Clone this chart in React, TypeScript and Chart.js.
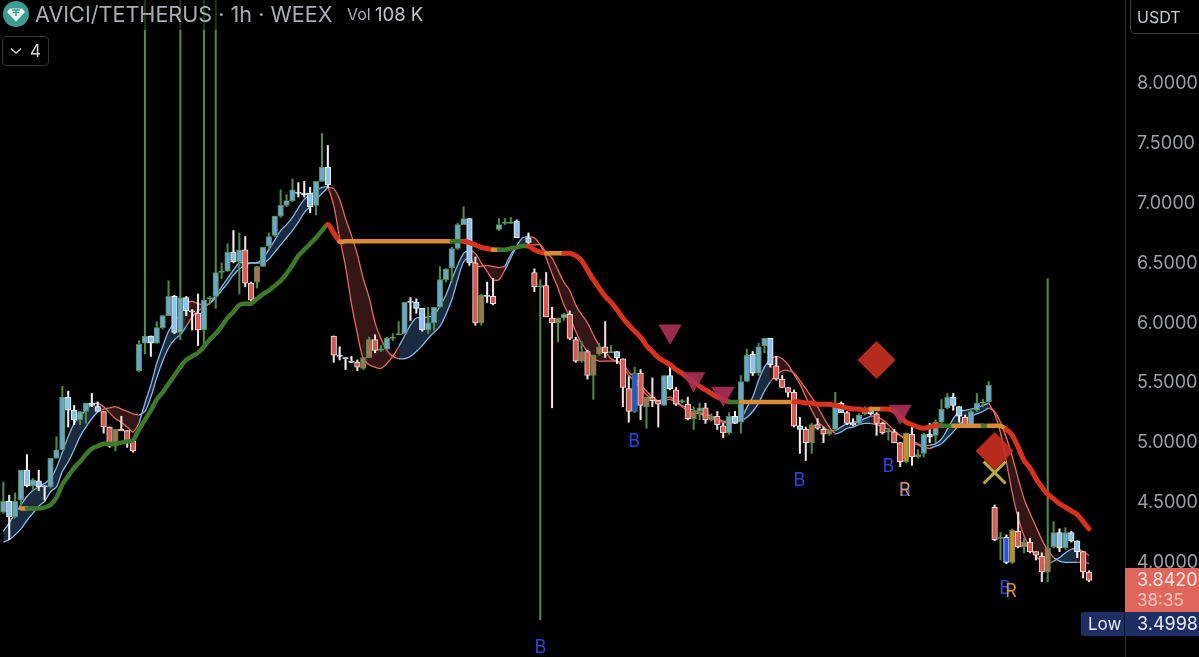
import React, { useEffect, useRef } from "react";
import { Chart, registerables } from "chart.js";

Chart.register(...registerables);

const candleKinds =
  "GWGGWGWWGG" + "GWWGGWWRRN" + "RRRGGWGGGW" + "GWWRGGGGGW" + "GRRNGGGGGG" +
  "WWWGGWRWWW" + "RNNRGGGGGW" + "WWGGGGGGGW" + "RNWRGGGWXW" + "RGRRNGRRNR" +
  "NNRGWRRLRN" + "RRGWRGRNGR" + "NRRGWGGWGG" + "WRRRRWRNRR" + "NGWRRGGWRR" +
  "GRRORNGWGG" + "GWWRGGGGRG" + "BORNRRRNGW" + "GWWRR";

const bodyTops = [
  4.50,4.50,4.50,4.76,4.76,4.68,4.67,4.63,4.86,4.93,
  5.37,5.37,5.26,5.25,5.32,5.32,5.29,5.25,5.12,5.10,
  5.10,5.09,5.00,5.81,5.88,5.88,5.95,6.05,6.21,6.21,
  6.20,6.20,6.09,6.07,6.18,6.20,6.41,6.42,6.58,6.58,
  6.60,6.60,6.32,6.46,6.62,6.71,6.88,6.97,7.01,7.10,
  7.08,7.07,7.07,7.17,7.29,7.29,5.88,5.72,5.70,5.67,
  5.66,5.70,5.85,5.85,5.77,5.86,5.87,5.90,6.16,6.17,
  6.16,6.11,5.99,6.12,6.35,6.44,6.61,6.81,6.86,6.86,
  6.49,6.22,6.22,6.21,6.81,6.83,6.83,6.84,null,6.70,
  6.41,6.30,6.30,6.03,6.03,6.06,6.06,5.85,5.75,5.75,
  5.72,5.79,5.79,5.75,5.75,5.69,5.44,5.57,5.57,5.37,
  5.37,5.34,5.55,5.55,5.43,5.34,5.31,5.25,5.28,5.28,
  5.21,5.21,5.13,5.21,5.21,5.50,5.72,5.73,5.79,5.86,
  5.86,5.63,5.52,5.45,5.41,5.13,5.10,5.14,5.14,5.10,
  5.09,5.32,5.32,5.24,5.15,5.22,5.27,5.27,5.23,5.15,
  5.09,5.08,4.99,5.07,5.06,4.89,5.06,5.06,5.16,5.27,
  5.37,5.37,5.29,5.20,5.25,5.32,5.33,5.47,4.45,4.20,
  4.20,4.26,4.25,4.16,4.16,4.08,4.04,4.11,4.24,4.24,
  4.24,4.24,4.17,4.08,3.91,
];

const bodyBottoms = [
  4.41,4.37,4.37,4.51,4.63,4.63,4.62,4.62,4.62,4.86,
  4.93,5.26,5.18,5.18,5.25,5.30,5.25,5.12,4.96,4.96,
  5.09,5.00,4.92,5.59,5.82,5.82,5.82,5.95,6.05,5.91,
  5.91,6.09,6.08,5.93,5.93,6.19,6.21,6.41,6.42,6.50,
  6.50,6.32,6.18,6.33,6.46,6.63,6.72,6.88,6.97,7.01,
  7.07,7.06,6.96,6.97,7.17,7.14,5.72,5.71,5.69,5.66,
  5.62,5.61,5.70,5.76,5.76,5.77,5.86,5.89,5.90,6.16,
  6.11,5.93,5.93,5.99,6.12,6.35,6.45,6.61,6.81,6.49,
  5.99,5.99,6.21,6.15,6.77,6.82,6.82,6.70,null,6.66,
  6.29,6.29,6.04,5.99,5.99,6.03,5.86,5.67,5.67,5.55,
  5.55,5.73,5.74,5.74,5.70,5.45,5.25,5.25,5.30,5.29,
  5.34,5.31,5.30,5.44,5.31,5.33,5.19,5.19,5.25,5.18,
  5.18,5.14,5.07,5.07,5.15,5.16,5.50,5.57,5.57,5.80,
  5.64,5.52,5.45,5.41,5.13,5.10,4.99,4.99,5.11,5.06,
  5.06,5.10,5.24,5.15,5.14,5.15,5.23,5.23,5.15,5.07,
  5.08,4.99,4.83,4.83,4.87,4.87,4.90,5.04,5.05,5.16,
  5.28,5.30,5.21,5.13,5.14,5.26,5.32,5.33,4.18,4.19,
  3.99,3.99,4.12,4.12,4.08,4.05,3.91,3.91,4.12,4.11,
  4.11,4.17,4.08,3.91,3.84,
];

const highs = [
  4.66,4.55,4.57,4.76,4.89,4.69,4.76,4.63,4.86,5.04,
  5.46,5.42,5.30,5.25,5.32,5.40,5.33,5.25,5.12,5.10,
  5.21,5.09,5.01,5.84,8.70,5.88,6.00,6.05,6.34,6.22,
  8.70,6.21,6.10,6.23,8.70,6.21,8.70,6.49,6.65,6.76,
  6.74,6.71,6.33,6.46,6.62,6.74,6.88,7.10,7.06,7.19,
  7.16,7.17,7.12,7.17,7.57,7.47,5.88,5.79,5.70,5.71,
  5.68,5.70,5.87,5.89,5.80,5.87,5.90,6.00,6.16,6.20,
  6.19,6.11,6.12,6.12,6.46,6.44,6.62,6.82,6.96,6.86,
  6.54,6.23,6.33,6.36,6.86,6.86,6.87,6.85,null,6.74,
  6.44,6.35,6.41,6.12,6.03,6.07,6.09,5.87,5.83,5.76,
  5.72,5.82,6.00,5.80,5.75,5.69,5.54,5.62,5.60,5.37,
  5.53,5.34,5.55,5.65,5.45,5.35,5.37,5.29,5.32,5.32,
  5.23,5.25,5.15,5.24,5.25,5.55,5.77,5.75,5.82,5.86,
  5.86,5.71,5.55,5.45,5.43,5.20,5.12,5.15,5.19,5.12,
  5.10,5.41,5.33,5.25,5.19,5.23,5.29,5.28,5.24,5.16,
  5.11,5.10,4.99,5.07,5.12,4.93,5.07,5.15,5.18,5.35,
  5.40,5.40,5.29,5.22,5.27,5.40,5.35,5.50,4.47,4.24,
  4.22,4.27,4.41,4.19,4.19,4.08,4.07,6.36,4.33,4.27,
  4.28,4.25,4.17,4.08,3.92,
];

const lows = [
  4.40,4.18,4.36,4.45,4.62,4.59,4.59,4.51,4.61,4.86,
  4.93,5.12,5.14,5.14,5.15,5.29,5.25,5.07,4.95,4.92,
  5.09,4.95,4.91,5.58,5.73,5.71,5.82,5.94,6.05,5.90,
  5.85,6.05,5.93,5.80,5.81,6.15,6.11,6.36,6.42,6.49,
  6.23,6.29,6.17,6.28,6.46,6.61,6.71,6.87,6.96,7.00,
  7.04,7.04,6.91,6.89,7.17,7.12,5.66,5.68,5.60,5.66,
  5.59,5.60,5.70,5.74,5.75,5.76,5.84,5.89,5.90,6.01,
  6.07,5.92,5.90,5.93,6.12,6.33,6.33,6.60,6.81,6.47,
  5.97,5.97,6.16,6.14,6.76,6.81,6.82,6.70,null,6.64,
  6.25,3.51,6.04,5.28,5.83,6.01,5.85,5.66,5.66,5.52,
  5.35,5.72,5.70,5.74,5.65,5.29,5.16,5.24,5.18,5.11,
  5.29,5.12,5.30,5.43,5.30,5.32,5.18,5.10,5.18,5.15,
  5.17,5.10,5.03,5.06,5.15,5.07,5.50,5.55,5.55,5.74,
  5.62,5.51,5.45,5.37,5.12,4.90,4.84,4.90,5.10,4.99,
  5.05,5.09,5.24,5.14,5.13,5.14,5.22,5.22,5.05,5.06,
  5.01,4.99,4.79,4.82,4.80,4.86,4.87,4.99,4.99,5.15,
  5.27,5.26,5.16,5.12,5.13,5.25,5.29,5.32,4.17,4.01,
  3.98,3.98,4.11,4.07,4.07,4.01,3.83,3.83,4.11,4.08,
  4.10,4.16,4.03,3.86,3.83,
];

const trendLine = [
  null,null,null,4.44,4.44,4.44,4.44,4.45,4.47,4.53,
  4.64,4.71,4.78,4.83,4.89,4.94,4.96,4.98,4.98,4.98,
  4.99,5.00,5.01,5.10,5.18,5.26,5.35,5.41,5.48,5.55,
  5.62,5.68,5.71,5.74,5.79,5.85,5.90,5.96,6.03,6.08,
  6.14,6.15,6.15,6.19,6.23,6.26,6.30,6.34,6.40,6.47,
  6.55,6.60,6.65,6.70,6.76,6.81,6.74,6.67,6.67,6.67,
  6.67,6.67,6.67,6.67,6.67,6.67,6.67,6.67,6.67,6.67,
  6.67,6.67,6.67,6.67,6.67,6.67,6.67,6.67,6.67,6.66,
  6.64,6.62,6.61,6.60,6.60,6.60,6.61,6.62,6.63,6.63,
  6.60,6.58,6.57,6.57,6.57,6.57,6.57,6.55,6.51,6.43,
  6.35,6.28,6.21,6.16,6.10,6.03,5.97,5.92,5.87,5.80,
  5.75,5.70,5.67,5.64,5.60,5.57,5.53,5.50,5.46,5.43,
  5.40,5.37,5.35,5.33,5.33,5.33,5.33,5.33,5.33,5.33,
  5.33,5.33,5.33,5.33,5.33,5.33,5.32,5.32,5.31,5.31,
  5.31,5.30,5.29,5.28,5.27,5.27,5.26,5.27,5.27,5.27,
  5.27,5.25,5.21,5.16,5.14,5.12,5.11,5.12,5.13,5.13,
  5.13,5.13,5.13,5.13,5.13,5.13,5.13,5.13,5.13,5.13,
  5.10,5.05,4.95,4.84,4.78,4.69,4.62,4.56,4.52,4.48,
  4.45,4.42,4.39,4.33,4.27,
];

const fastLine = [
  4.25,4.32,4.40,4.47,4.54,4.59,4.62,4.65,4.69,4.78,
  4.91,5.04,5.15,5.21,5.26,5.31,5.32,5.29,5.24,5.19,
  5.16,5.12,5.08,5.15,5.32,5.47,5.65,5.79,5.92,5.99,
  6.07,6.16,6.17,6.15,6.14,6.15,6.22,6.29,6.36,6.43,
  6.49,6.49,6.49,6.49,6.53,6.60,6.68,6.76,6.81,6.87,
  6.95,7.02,7.06,7.09,7.12,7.13,6.97,6.70,6.46,6.15,
  5.90,5.69,5.64,5.62,5.61,5.65,5.71,5.79,5.88,5.97,
  6.03,6.03,6.04,6.05,6.13,6.22,6.35,6.47,6.57,6.60,
  6.57,6.49,6.42,6.35,6.35,6.43,6.53,6.63,6.70,6.71,
  6.70,6.64,6.53,6.40,6.28,6.14,6.04,5.92,5.82,5.75,
  5.69,5.67,5.67,5.67,5.67,5.65,5.58,5.53,5.47,5.42,
  5.37,5.34,5.36,5.37,5.34,5.30,5.28,5.26,5.24,5.23,
  5.21,5.19,5.17,5.17,5.18,5.18,5.28,5.37,5.51,5.62,
  5.69,5.71,5.69,5.64,5.56,5.48,5.37,5.26,5.17,5.12,
  5.09,5.09,5.12,5.15,5.16,5.17,5.19,5.21,5.21,5.18,
  5.14,5.09,5.05,5.03,5.01,4.98,4.96,4.97,4.98,5.02,
  5.10,5.19,5.25,5.26,5.27,5.28,5.30,5.32,5.23,5.07,
  4.83,4.57,4.36,4.21,4.11,4.04,4.00,3.98,4.00,4.03,
  4.07,4.10,4.11,4.08,4.05,
];

const slowLine = [
  4.16,4.18,4.22,4.27,4.34,4.40,4.46,4.50,4.58,4.62,
  4.75,4.83,4.93,5.04,5.12,5.19,5.25,5.27,5.28,5.29,
  5.27,5.25,5.23,5.22,5.25,5.37,5.53,5.67,5.78,5.85,
  5.89,5.96,6.04,6.09,6.12,6.15,6.20,6.26,6.32,6.39,
  6.44,6.47,6.49,6.49,6.49,6.52,6.58,6.64,6.70,6.76,
  6.83,6.91,6.96,7.02,7.07,7.12,7.11,7.02,6.86,6.72,
  6.56,6.36,6.20,5.99,5.86,5.76,5.71,5.69,5.69,5.71,
  5.75,5.80,5.86,5.91,5.96,6.06,6.18,6.35,6.50,6.54,
  6.47,6.46,6.47,6.46,6.45,6.46,6.56,6.62,6.64,6.64,
  6.64,6.64,6.58,6.53,6.43,6.33,6.26,6.14,6.06,5.99,
  5.89,5.80,5.75,5.69,5.67,5.62,5.55,5.50,5.44,5.39,
  5.35,5.33,5.34,5.35,5.33,5.29,5.26,5.24,5.23,5.21,
  5.19,5.17,5.16,5.15,5.17,5.17,5.20,5.25,5.32,5.42,
  5.50,5.55,5.59,5.59,5.57,5.51,5.44,5.37,5.29,5.20,
  5.12,5.06,5.08,5.11,5.12,5.14,5.15,5.15,5.14,5.12,
  5.10,5.07,5.05,5.01,4.99,4.97,4.95,4.94,4.96,4.98,
  5.03,5.08,5.14,5.18,5.21,5.23,5.25,5.28,5.25,5.16,
  5.03,4.87,4.69,4.52,4.40,4.29,4.18,4.09,4.03,4.00,
  3.99,3.99,3.99,3.99,3.98,
];

const bullRanges = [[0,16],[23,31],[35,55],[67,79],[85,89],[125,130],[141,147],[157,167],[178,182]];
const bearRanges = [[16,23],[31,35],[55,67],[79,85],[89,125],[130,141],[147,157],[167,178],[182,184]];

const trendStates: [number, string][] = [
  [3,"o"],[4,"g"],[55,"r"],[57,"o"],[76,"g"],[78,"r"],[83,"o"],[84,"g"],[89,"r"],[92,"o"],[95,"r"],
  [123,"g"],[125,"o"],[134,"r"],[147,"o"],[149,"r"],[159,"g"],[161,"o"],[166,"g"],[167,"o"],[170,"r"],
];

const triangleMarks = [{ x: 113, y: 5.92 }, { x: 117, y: 5.52 }, { x: 122, y: 5.40 }, { x: 152, y: 5.25 }];
const diamondMarks = [{ x: 148, y: 5.68 }, { x: 168, y: 4.92 }];
const crossMarks = [{ x: 168, y: 4.74 }];
const blueLetters = [
  { x: 106.9, y: 5.0 }, { x: 134.9, y: 4.67 }, { x: 150, y: 4.79 },
  { x: 91, y: 3.28 }, { x: 169.8, y: 3.77 }, { x: 152.8, y: 4.59 },
];
const orangeLetters = [{ x: 152.8, y: 4.59 }, { x: 170.8, y: 3.75 }];

const yTicks = [4, 4.5, 5, 5.5, 6, 6.5, 7, 7.5, 8];

const UI_FONT = "Inter, 'Noto Sans', sans-serif";
const GREEN_EDGE = "#4f8a4a";
const WHITE_EDGE = "#f4f4f4";
const PINK_EDGE = "#f3e0dc";

const kindStyle: Record<string, { fill: string; edge: string }> = {
  G: { fill: "#6ba6c7", edge: GREEN_EDGE },
  W: { fill: "#8ec3f0", edge: WHITE_EDGE },
  R: { fill: "#d95a55", edge: PINK_EDGE },
  N: { fill: "#a9714f", edge: GREEN_EDGE },
  O: { fill: "#c98a2d", edge: GREEN_EDGE },
  B: { fill: "#2255dd", edge: WHITE_EDGE },
  L: { fill: "#2255dd", edge: GREEN_EDGE },
};
const trendColors: Record<string, string> = { o: "#d98c35", g: "#3c7a2a", r: "#d8321f" };

const trendStateAt = (i: number) => {
  let c = "g";
  for (const [start, state] of trendStates) if (i >= start) c = state;
  return c;
};

const letterPlugin = {
  id: "letters",
  afterDatasetsDraw(chart: any) {
    const { ctx, scales } = chart;
    ctx.save();
    ctx.font = `18px ${UI_FONT}`;
    ctx.textAlign = "center";
    ctx.textBaseline = "middle";
    const draw = (list: { x: number; y: number }[], letter: string, color: string) => {
      ctx.fillStyle = color;
      list.forEach((p) => ctx.fillText(letter, scales.x.getPixelForValue(p.x), scales.y.getPixelForValue(p.y)));
    };
    draw(blueLetters, "B", "#2a48d8");
    draw(orangeLetters, "R", "#d98c45");
    ctx.restore();
  },
};

function bandDatasets(ranges: number[][], line: string, fill: string) {
  const out: any[] = [];
  ranges.forEach(([a, b]) => {
    const pick = (arr: number[]) => {
      const pts = [];
      for (let i = a; i <= b; i++) pts.push({ x: i, y: arr[i] });
      return pts;
    };
    const common = { type: "line", borderColor: line, borderWidth: 1.3, pointRadius: 0, tension: 0.3, order: 10 };
    out.push({ ...common, data: pick(fastLine), fill: "+1", backgroundColor: fill });
    out.push({ ...common, data: pick(slowLine), fill: false });
  });
  return out;
}

export default function App() {
  const ref = useRef<HTMLCanvasElement>(null);
  useEffect(() => {
    const wicks: any[] = [];
    const bodies: any[] = [];
    candleKinds.split("").forEach((kind, i) => {
      if (kind === "X") return;
      wicks.push({ x: i, y: [lows[i], highs[i]], kind });
      bodies.push({ x: i, y: [bodyBottoms[i], bodyTops[i]], kind });
    });
    const chart = new Chart(ref.current as HTMLCanvasElement, {
      type: "bar",
      data: {
        datasets: [
          ...bandDatasets(bullRanges, "#86b6e6", "#1a2a3f"),
          ...bandDatasets(bearRanges, "#e06c5c", "#331615"),
          {
            type: "bar",
            data: wicks,
            barThickness: 1.4,
            grouped: false,
            backgroundColor: (c: any) => kindStyle[c.raw.kind].edge,
            order: 5,
          },
          {
            type: "bar",
            data: bodies,
            barThickness: 5.6,
            grouped: false,
            backgroundColor: (c: any) => kindStyle[c.raw.kind].fill,
            borderColor: (c: any) => kindStyle[c.raw.kind].edge,
            borderWidth: 1,
            borderSkipped: false,
            order: 4,
          },
          {
            type: "line",
            data: trendLine.map((y, x) => ({ x, y })),
            borderWidth: 4.5,
            borderCapStyle: "round",
            pointRadius: 0,
            tension: 0.3,
            fill: false,
            segment: {
              borderColor: (c: any) => trendColors[trendStateAt(c.p0DataIndex)],
              borderWidth: (c: any) => (trendStateAt(c.p0DataIndex) === "r" ? 5 : 4.5),
            },
            borderColor: trendColors.g,
            order: 3,
          },
          {
            type: "scatter",
            data: triangleMarks,
            pointStyle: "triangle",
            pointRotation: 180,
            pointRadius: 13.5,
            pointBackgroundColor: "rgba(172,48,88,0.9)",
            pointBorderWidth: 0,
            order: 1,
          },
          {
            type: "scatter",
            data: diamondMarks,
            pointStyle: "rectRot",
            pointRadius: 19,
            pointBackgroundColor: "rgba(200,46,30,0.92)",
            pointBorderWidth: 0,
            order: 1,
          },
          {
            type: "scatter",
            data: crossMarks,
            pointStyle: "crossRot",
            pointRadius: 15.5,
            pointBorderColor: "#b8ad3c",
            pointBorderWidth: 3,
            order: 1,
          },
        ] as any,
      },
      options: {
        animation: false,
        responsive: false,
        layout: { padding: 0, autoPadding: false },
        plugins: {
          legend: { display: false },
          tooltip: { enabled: false },
          filler: { drawTime: "beforeDatasetsDraw", propagate: false },
        } as any,
        scales: {
          x: { type: "linear", display: false, min: -0.564, max: 190.1, offset: false, grid: { display: false } },
          y: {
            type: "linear",
            position: "right",
            min: 3.2005,
            max: 8.6845,
            afterFit: (s: any) => {
              s.width = 74;
              s.paddingTop = 0;
              s.paddingBottom = 0;
            },
            afterBuildTicks: (s: any) => { s.ticks = yTicks.map((value) => ({ value })); },
            grid: { display: false, drawTicks: false },
            border: { display: true, color: "#2b2b2b", width: 1 },
            ticks: {
              color: "#9b9ea3",
              font: { family: UI_FONT, size: 18 },
              padding: 12,
              labelOffset: 1.5,
              callback: (v: any) => Number(v).toFixed(4),
            },
          },
        } as any,
      },
      plugins: [letterPlugin],
    } as any);
    return () => chart.destroy();
  }, []);

  const abs = (s: React.CSSProperties): React.CSSProperties => ({ position: "absolute", ...s });
  return (
    <div style={{ position: "fixed", left: 0, top: 0, width: 1199, height: 657, background: "#000", overflow: "hidden", fontFamily: UI_FONT }}>
      <canvas ref={ref} width={1199} height={657} style={{ display: "block", position: "absolute", left: 0, top: 0 }} />

      <div style={abs({ left: 0, top: 0, width: 430, height: 30, background: "rgba(0,0,0,0.62)" })} />
      <svg width={26} height={26} viewBox="0 0 26 26" style={abs({ left: 3, top: 1 })}>
        <circle cx={13} cy={13} r={13} fill="#3d9c92" />
        <path d="M7 7.5 H19 L22 11 L13 20.5 L4 11 Z" fill="#e8f5f3" />
        <path d="M9 9 H17 M13 9 V15 M9.5 11.5 H16.5" stroke="#3d9c92" strokeWidth={1.4} fill="none" />
      </svg>
      <div style={abs({ left: 35, top: 0, height: 29, lineHeight: "29px", fontSize: 21.6, color: "#a9acb2", whiteSpace: "nowrap" })}>
        AVICI/TETHERUS · 1h · WEEX
      </div>
      <div style={abs({ left: 347, top: 0, height: 29, lineHeight: "29px", fontSize: 16, color: "#a9acb2", whiteSpace: "nowrap" })}>Vol</div>
      <div style={abs({ left: 375, top: 0, height: 29, lineHeight: "29px", fontSize: 18.5, color: "#c4c6ca", whiteSpace: "nowrap" })}>108 K</div>

      <div style={abs({ left: 2, top: 36, width: 45, height: 28, border: "1px solid #353535", borderRadius: 4, boxSizing: "content-box" })}>
        <svg width={12} height={8} viewBox="0 0 12 8" style={abs({ left: 7, top: 10 })}>
          <path d="M1 1.5 L6 6 L11 1.5" stroke="#d5d5d5" strokeWidth={1.4} fill="none" />
        </svg>
        <div style={abs({ left: 27, top: 0, lineHeight: "28px", fontSize: 17, color: "#d5d5d5" })}>4</div>
      </div>

      <div style={abs({ left: 1130, top: -3, width: 72, height: 35, border: "1px solid #3a3a3a", borderRadius: 5, boxSizing: "content-box", background: "#000" })}>
        <div style={abs({ left: 6, top: 3, lineHeight: "32px", fontSize: 16, color: "#c9ccd0" })}>USDT</div>
      </div>

      <div style={abs({ left: 1125, top: 568, width: 74, height: 44, background: "#e0655a" })}>
        <div style={abs({ left: 12, top: 1, lineHeight: "22px", fontSize: 18, color: "#fbe3df" })}>3.8420</div>
        <div style={abs({ left: 12, top: 22, lineHeight: "21px", fontSize: 17, color: "#ffc4bb" })}>38:35</div>
      </div>
      <div style={abs({ left: 1081, top: 612, width: 118, height: 24, background: "#1c2e62", borderRadius: "3px 0 0 3px" })}>
        <div style={abs({ left: 7, top: 0, lineHeight: "24px", fontSize: 17, color: "#e6e9f2" })}>Low</div>
        <div style={abs({ left: 43, top: 0, width: 1, height: 24, background: "#0b1330" })} />
        <div style={abs({ left: 56, top: 0, lineHeight: "24px", fontSize: 18, color: "#e6e9f2" })}>3.4998</div>
      </div>
    </div>
  );
}
